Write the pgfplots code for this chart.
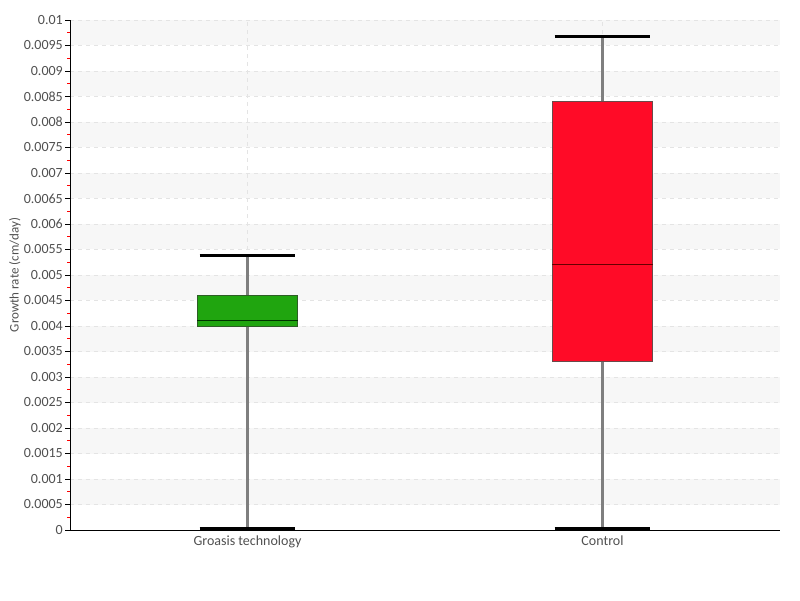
\documentclass[border=0pt]{standalone}
\usepackage{pgfplots}
\pgfplotsset{compat=1.18}
\usepackage{fontspec}
\setmainfont{Carlito}
\definecolor{txt}{HTML}{505050}
\definecolor{band}{HTML}{F7F7F7}
\definecolor{gridc}{HTML}{E4E4E4}
\definecolor{gfill}{HTML}{20A50F}
\definecolor{gdraw}{HTML}{2E5E26}
\definecolor{rfill}{HTML}{FF0B27}
\definecolor{rdraw}{HTML}{6A4A4A}
\definecolor{whisk}{HTML}{7F7F7F}
\begin{document}
\begin{tikzpicture}
\begin{axis}[
  set layers,
  at={(0pt,0pt)}, anchor=south west,
  scale only axis, width=710pt, height=510pt,
  xmin=-0.5, xmax=1.5, ymin=0, ymax=0.01,
  scaled y ticks=false,
  axis x line*=bottom, axis y line*=left,
  axis line style={black, line width=0.8pt},
  xtick={0,1}, xticklabels={Groasis technology, Control},
  x tick style={draw=none},
  ytick={0,0.0005,0.001,0.0015,0.002,0.0025,0.003,0.0035,0.004,0.0045,0.005,0.0055,0.006,0.0065,0.007,0.0075,0.008,0.0085,0.009,0.0095,0.01},
  yticklabels={0,0.0005,0.001,0.0015,0.002,0.0025,0.003,0.0035,0.004,0.0045,0.005,0.0055,0.006,0.0065,0.007,0.0075,0.008,0.0085,0.009,0.0095,0.01},
  minor ytick={0.00025,0.00075,0.00125,0.00175,0.00225,0.00275,0.00325,0.00375,0.00425,0.00475,0.00525,0.00575,0.00625,0.00675,0.00725,0.00775,0.00825,0.00875,0.00925,0.00975},
  tick align=outside,
  major tick length=5pt, minor tick length=2.5pt,
  y tick style={black, line width=0.8pt},
  minor y tick style={red, line width=0.8pt},
  xmajorgrids, ymajorgrids,
  major grid style={gridc, dash pattern=on 4pt off 4pt, line width=0.8pt},
  /pgf/number format/assume math mode=true,
  ticklabel style={font=\fontsize{14}{16}\selectfont, text=txt},
  yticklabel style={inner sep=1pt, xshift=-1pt},
  xticklabel style={inner sep=1pt, yshift=0pt},
  ylabel={Growth rate (cm/day)},
  ylabel style={font=\fontsize{13}{15}\selectfont, text=txt, at={(axis description cs:-0.0775,0.5)}, anchor=center},
  clip=false,
]
% background bands
\addplot[on layer=axis background, draw=none, fill=band] coordinates {(-0.5,0.0005) (1.5,0.0005) (1.5,0.001) (-0.5,0.001)} -- cycle;
\addplot[on layer=axis background, draw=none, fill=band] coordinates {(-0.5,0.0015) (1.5,0.0015) (1.5,0.002) (-0.5,0.002)} -- cycle;
\addplot[on layer=axis background, draw=none, fill=band] coordinates {(-0.5,0.0025) (1.5,0.0025) (1.5,0.003) (-0.5,0.003)} -- cycle;
\addplot[on layer=axis background, draw=none, fill=band] coordinates {(-0.5,0.0035) (1.5,0.0035) (1.5,0.004) (-0.5,0.004)} -- cycle;
\addplot[on layer=axis background, draw=none, fill=band] coordinates {(-0.5,0.0045) (1.5,0.0045) (1.5,0.005) (-0.5,0.005)} -- cycle;
\addplot[on layer=axis background, draw=none, fill=band] coordinates {(-0.5,0.0055) (1.5,0.0055) (1.5,0.006) (-0.5,0.006)} -- cycle;
\addplot[on layer=axis background, draw=none, fill=band] coordinates {(-0.5,0.0065) (1.5,0.0065) (1.5,0.007) (-0.5,0.007)} -- cycle;
\addplot[on layer=axis background, draw=none, fill=band] coordinates {(-0.5,0.0075) (1.5,0.0075) (1.5,0.008) (-0.5,0.008)} -- cycle;
\addplot[on layer=axis background, draw=none, fill=band] coordinates {(-0.5,0.0085) (1.5,0.0085) (1.5,0.009) (-0.5,0.009)} -- cycle;
\addplot[on layer=axis background, draw=none, fill=band] coordinates {(-0.5,0.0095) (1.5,0.0095) (1.5,0.01) (-0.5,0.01)} -- cycle;
% whisker lines
\addplot[whisk, line width=2.2pt] coordinates {(0,0.00003) (0,0.00538)};
\addplot[whisk, line width=2.2pt] coordinates {(1,0.00003) (1,0.00968)};
% boxes (Q1 to Q3)
\addplot[fill=gfill, draw=gdraw, line width=1pt] coordinates {(-0.141,0.004) (0.141,0.004) (0.141,0.0046) (-0.141,0.0046)} -- cycle;
\addplot[fill=rfill, draw=rdraw, line width=1pt] coordinates {(0.859,0.0033) (1.141,0.0033) (1.141,0.0084) (0.859,0.0084)} -- cycle;
% medians
\addplot[black!80!green, line width=1pt] coordinates {(-0.141,0.0041) (0.141,0.0041)};
\addplot[black!60!red, line width=1pt] coordinates {(0.859,0.0052) (1.141,0.0052)};
% whisker caps
\addplot[black, line width=3pt] coordinates {(-0.135,0.00538) (0.135,0.00538)};
\addplot[black, line width=3pt] coordinates {(-0.135,0.00003) (0.135,0.00003)};
\addplot[black, line width=3pt] coordinates {(0.865,0.00968) (1.135,0.00968)};
\addplot[black, line width=3pt] coordinates {(0.865,0.00003) (1.135,0.00003)};
\end{axis}
\path (-70pt,-70pt) rectangle (730pt,530pt);
\end{tikzpicture}
\end{document}
